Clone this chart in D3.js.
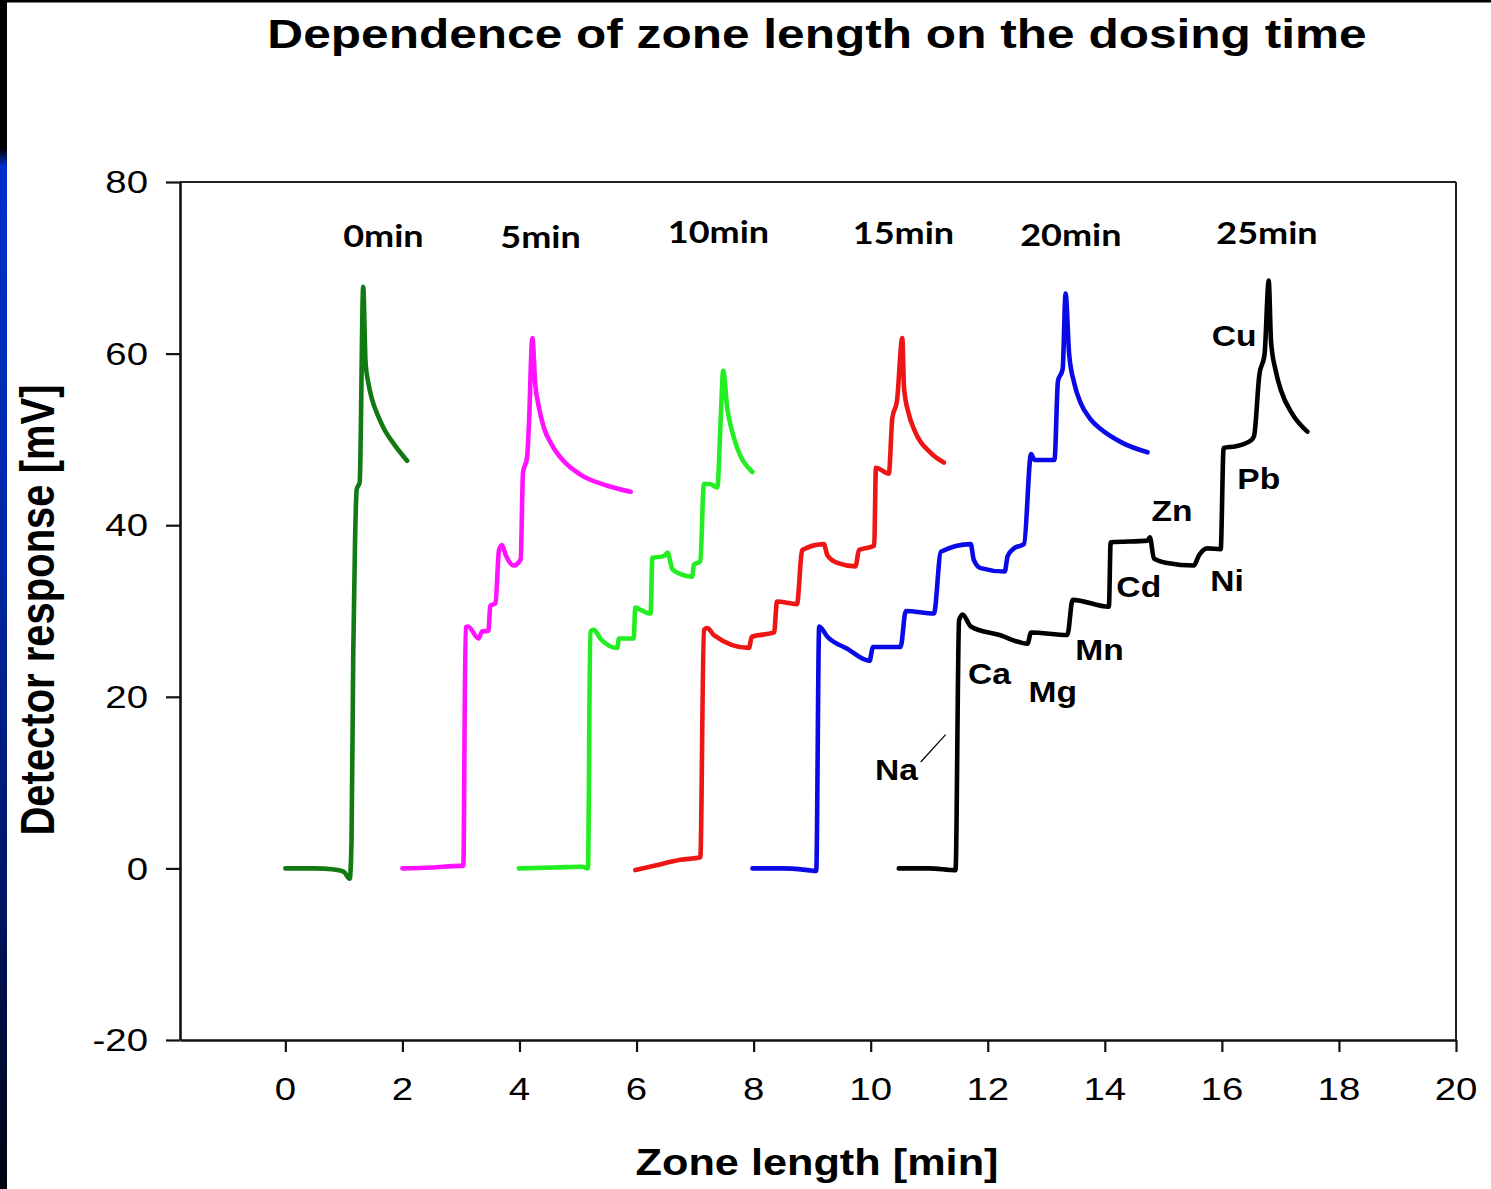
<!DOCTYPE html>
<html><head><meta charset="utf-8">
<script src="https://cdn.jsdelivr.net/npm/d3@7"></script>
<style>body{margin:0;background:#fff;} svg{display:block;}</style>
</head><body><svg id="c" width="1491" height="1189"></svg>
<script>
// ---------------- data ----------------
const seriesNames = ["0min", "5min", "10min", "15min", "20min", "25min"];

const t0 = [0, 0.5, 0.8, 1.0, 1.1, 1.13, 1.16, 1.19, 1.22, 1.27, 1.33, 1.37, 1.42, 1.48, 1.58, 1.68, 1.85, 2.08];
const v0 = [0, 0, -0.1, -0.4, -1.2, 3, 25, 38, 44.2, 45, 67.8, 59, 56.5, 54.7, 52.8, 51.3, 49.5, 47.5];

const t5 = [2.0, 2.5, 2.99, 3.04, 3.08, 3.12, 3.30, 3.36, 3.47, 3.50, 3.59, 3.65, 3.70, 3.76, 3.90, 4.02, 4.06, 4.13, 4.16, 4.22, 4.27, 4.33, 4.42, 4.55, 4.75, 5.04, 5.50, 5.90];
const v5 = [0, 0.1, 0.3, 0.3, 28.1, 28.2, 26.8, 27.6, 27.7, 30.6, 30.9, 37.1, 37.7, 36.6, 35.3, 36.0, 46.1, 47.9, 51.5, 61.8, 56.4, 53.8, 51.3, 49.4, 47.5, 45.9, 44.6, 43.9];

const t10 = [3.99, 4.6, 5.07, 5.17, 5.21, 5.27, 5.38, 5.67, 5.70, 5.95, 5.98, 6.05, 6.24, 6.27, 6.47, 6.53, 6.61, 6.75, 6.95, 6.98, 7.09, 7.15, 7.25, 7.38, 7.44, 7.48, 7.55, 7.63, 7.72, 7.98];
const v10 = [0, 0.1, 0.2, 0, 27.6, 27.8, 26.8, 25.7, 26.8, 26.8, 30.4, 30.2, 29.7, 36.2, 36.4, 36.8, 34.9, 34.3, 34.0, 35.4, 35.8, 44.8, 44.8, 44.4, 52.7, 58.0, 53.6, 51.0, 49.0, 46.2];

const t15 = [5.98, 6.30, 6.75, 7.09, 7.15, 7.21, 7.32, 7.92, 7.97, 8.35, 8.40, 8.74, 8.83, 9.20, 9.26, 9.43, 9.74, 9.80, 10.06, 10.09, 10.31, 10.37, 10.45, 10.54, 10.57, 10.65, 10.74, 11.03, 11.25];
const v15 = [-0.2, 0.3, 1.0, 1.3, 27.8, 28.0, 27.2, 25.7, 27.0, 27.5, 31.1, 30.8, 37.1, 37.8, 36.5, 35.6, 35.2, 37.1, 37.6, 46.7, 46.0, 52.5, 54.5, 61.8, 56.0, 53.0, 51.2, 48.4, 47.3];

const t20 = [7.98, 8.5, 8.93, 9.07, 9.12, 9.26, 9.6, 9.98, 10.04, 10.51, 10.60, 11.08, 11.20, 11.71, 11.76, 11.88, 12.29, 12.34, 12.45, 12.62, 12.74, 12.80, 13.14, 13.20, 13.28, 13.33, 13.39, 13.48, 13.59, 13.75, 13.93, 14.3, 14.73];
const v20 = [0, 0, -0.2, -0.3, 28.2, 27.0, 25.6, 24.2, 25.8, 25.8, 30.0, 29.7, 36.9, 37.8, 36.0, 35.0, 34.6, 36.4, 37.3, 37.8, 48.3, 47.6, 47.6, 56.8, 58.2, 67.0, 60.0, 56.5, 54.2, 52.4, 51.2, 49.6, 48.5];

const t25 = [10.48, 11.0, 11.45, 11.51, 11.57, 11.71, 12.2, 12.68, 12.74, 13.36, 13.45, 14.07, 14.10, 14.73, 14.77, 14.84, 15.07, 15.52, 15.61, 15.75, 15.98, 16.03, 16.24, 16.50, 16.55, 16.64, 16.73, 16.80, 16.84, 16.92, 17.01, 17.2, 17.46];
const v25 = [0, 0, -0.2, 28.9, 29.6, 28.2, 27.2, 26.2, 27.5, 27.2, 31.3, 30.5, 38.0, 38.2, 38.6, 36.1, 35.6, 35.3, 36.5, 37.3, 37.2, 49.0, 49.2, 49.9, 50.4, 57.5, 60.0, 68.5, 61.4, 58.0, 55.7, 53.0, 50.9];

const xTicks = [0, 2, 4, 6, 8, 10, 12, 14, 16, 18, 20];
const yTicks = [-20, 0, 20, 40, 60, 80];

// annotation texts (anchored in data units)
const seriesLabelT = [1.675, 4.36, 7.40, 10.56, 13.42, 16.77];
const seriesLabelV = [73.7, 73.6, 74.1, 74.0, 73.8, 74.0];
const ionNames = ["Na", "Ca", "Mg", "Mn", "Cd", "Zn", "Ni", "Pb", "Cu"];
const ionT = [10.44, 12.03, 13.11, 13.91, 14.58, 15.15, 16.09, 16.63, 16.21];
const ionV = [11.6, 22.7, 20.7, 25.6, 32.9, 41.8, 33.6, 45.5, 62.1];
const naLeaderT = [10.855, 11.28];
const naLeaderV = [12.4, 15.6];

// ---------------- styles ----------------
const colors = ["#127a12", "#ff12ff", "#22ee22", "#ee1515", "#0a0ae8", "#000000"];
const tList = [t0, t5, t10, t15, t20, t25];
const vList = [v0, v5, v10, v15, v20, v25];

const svg = d3.select("#c");
const W = 1491, H = 1189;

// slide background decoration
const defs = svg.append("defs");
const grad = defs.append("linearGradient").attr("id", "lg").attr("x1", 0).attr("y1", 0).attr("x2", 0).attr("y2", 1);
[[0, "#000"], [0.125, "#000"], [0.14, "#0030cc"], [0.45, "#0028a8"], [0.75, "#001565"], [1, "#00030f"]]
  .forEach(([o, c]) => grad.append("stop").attr("offset", o).attr("stop-color", c));
svg.append("rect").attr("x", 0).attr("y", 0).attr("width", W).attr("height", H).attr("fill", "#fff");
svg.append("rect").attr("x", 0).attr("y", 0).attr("width", 7).attr("height", H).attr("fill", "url(#lg)");
svg.append("rect").attr("x", 0).attr("y", 0).attr("width", W).attr("height", 2.5).attr("fill", "#000");

const x = d3.scaleLinear().domain([-1.8, 20]).range([180, 1456]);
const y = d3.scaleLinear().domain([-20, 80]).range([1040, 182]);

function sText(px, py, txt, opt) {
  const g = svg.append("g").attr("transform", `translate(${px},${py}) ${opt.rot ? "rotate(-90) scale(1," + opt.sx + ")" : "scale(" + opt.sx + ",1)"}`);
  return g.append("text").attr("x", 0).attr("y", 0)
    .attr("text-anchor", opt.anchor || "middle")
    .attr("dy", opt.dy || 0)
    .attr("font-family", opt.family || "'Liberation Sans', Arial, sans-serif")
    .attr("font-weight", opt.weight || "normal")
    .attr("font-size", opt.size)
    .attr("fill", "#000")
    .text(txt);
}

// frame (top and right)
svg.append("line").attr("x1", x(-1.8)).attr("x2", x(20)).attr("y1", y(80)).attr("y2", y(80)).attr("stroke", "#222").attr("stroke-width", 2);
svg.append("line").attr("x1", x(20)).attr("x2", x(20)).attr("y1", y(80)).attr("y2", y(-20)).attr("stroke", "#222").attr("stroke-width", 2);

// axes
const gy = svg.append("g").attr("transform", `translate(${x(-1.8)},0)`)
  .call(d3.axisLeft(y).tickValues(yTicks).tickSize(14).tickSizeOuter(0).tickFormat(""));
const gx = svg.append("g").attr("transform", `translate(0,${y(-20)})`)
  .call(d3.axisBottom(x).tickValues(xTicks).tickSize(12).tickSizeOuter(0).tickFormat(""));
[gx, gy].forEach(g => {
  g.select(".domain").attr("stroke", "#111").attr("stroke-width", 2.6);
  g.selectAll(".tick line").attr("stroke", "#111").attr("stroke-width", 2.2);
});

yTicks.forEach(v => sText(148, y(v), String(v), { size: 32, sx: 1.2, anchor: "end", dy: "0.35em" }));
xTicks.forEach(v => sText(x(v), 1100, String(v), { size: 32, sx: 1.2 }));

// titles
sText(817, 48, "Dependence of zone length on the dosing time", { size: 40, sx: 1.24, weight: "bold" });
sText(817, 1175, "Zone length [min]", { size: 37, sx: 1.17, weight: "bold" });
sText(54, 610, "Detector response [mV]", { size: 40, sx: 1.2, weight: "bold", rot: true });

// traces
const line = d3.line().x(d => x(d[0])).y(d => y(d[1])).curve(d3.curveMonotoneX);
tList.forEach((ts, i) => {
  const pts = ts.map((t, j) => [t, vList[i][j]]);
  svg.append("path").datum(pts).attr("d", line)
    .attr("fill", "none").attr("stroke", colors[i]).attr("stroke-width", 4.6)
    .attr("stroke-linejoin", "round").attr("stroke-linecap", "round");
});

// series labels
seriesNames.forEach((n, i) => sText(x(seriesLabelT[i]), y(seriesLabelV[i]), n,
  { size: 30, sx: 1.2, weight: "bold", family: "Lato, 'Open Sans', sans-serif", dy: "0.36em" }));

// ion labels
ionNames.forEach((n, i) => sText(x(ionT[i]), y(ionV[i]), n, { size: 30, sx: 1.12, weight: "bold", dy: "0.36em" }));
svg.append("line").attr("x1", x(naLeaderT[0])).attr("y1", y(naLeaderV[0])).attr("x2", x(naLeaderT[1])).attr("y2", y(naLeaderV[1]))
  .attr("stroke", "#000").attr("stroke-width", 1.2);
</script>
</body></html>
